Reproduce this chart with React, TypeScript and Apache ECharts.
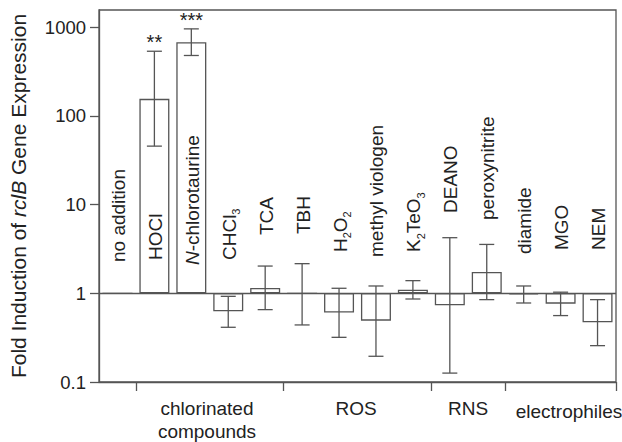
import React, { useEffect, useRef } from "react";
import * as echarts from "echarts";

const CATEGORIES = [
  "no addition", "HOCl", "N-chlorotaurine", "CHCl3", "TCA", "TBH", "H2O2",
  "methyl viologen", "K2TeO3", "DEANO", "peroxynitrite", "diamide", "MGO", "NEM",
];
// rich-text versions of category labels (subscripts / italics)
const CATEGORY_RICH = [
  "no addition", "HOCl", "{it|N}-chlorotaurine", "CHCl{sub|3}", "TCA", "TBH",
  "H{sub|2}O{sub|2}", "methyl viologen", "K{sub|2}TeO{sub|3}", "DEANO",
  "peroxynitrite", "diamide", "MGO", "NEM",
];
const FOLD = [1, 156, 679, 0.627, 1.15, 1.0, 0.606, 0.492, 1.1, 0.732, 1.74, 0.97, 0.765, 0.471];
const ERR_LOW = [null, 45.7, 481, 0.414, 0.655, 0.44, 0.319, 0.195, 0.863, 0.126, 0.849, 0.778, 0.561, 0.257];
const ERR_HIGH = [null, 537, 960, 0.925, 2.03, 2.16, 1.14, 1.21, 1.39, 4.24, 3.56, 1.21, 1.03, 0.849];
const SIGNIF = ["", "**", "***", "", "", "", "", "", "", "", "", "", "", ""];
const Y_TICKS = [0.1, 1, 10, 100, 1000];
const GROUPS = ["chlorinated\ncompounds", "ROS", "RNS", "electrophiles"];
const GROUP_BOUNDARY_INDEX = [1, 5, 9, 11];

// layout (pixels)
const LABEL_BOTTOM = [262, 260, 265, 260, 235, 234, 252, 257, 252, 213, 220, 254, 250, 250];
const GROUP_POS = [[207, 397], [356, 397], [468, 397], [569, 400]];

const FONT = '"Liberation Sans", Arial, Helvetica, sans-serif';
const TEXT = "#222";
const LINE = "#555";

export default function App() {
  const ref = useRef<HTMLDivElement>(null);
  useEffect(() => {
    if (!ref.current) return;
    const chart = echarts.init(ref.current, undefined, { renderer: "svg" });
    const errData = CATEGORIES.map((_, i) =>
      ERR_LOW[i] == null ? null : [i, ERR_LOW[i], ERR_HIGH[i]]
    ).filter((d) => d != null);
    const richLabel = {
      it: { fontStyle: "italic", fontSize: 19, fontFamily: FONT, fill: TEXT, color: TEXT },
      sub: { fontSize: 11, lineHeight: 11, fontFamily: FONT, fill: TEXT, color: TEXT, verticalAlign: "bottom" },
    };
    chart.setOption({
      animation: false,
      backgroundColor: "#fff",
      textStyle: { fontFamily: FONT },
      grid: {
        left: 98, right: 6, top: 10, bottom: 60, show: true,
        borderColor: LINE, borderWidth: 1.3, backgroundColor: "transparent",
      },
      xAxis: {
        type: "category",
        data: CATEGORIES,
        axisLine: { lineStyle: { color: LINE, width: 1.3 } },
        axisLabel: { show: false },
        axisTick: {
          show: true, length: 9, lineStyle: { color: LINE, width: 1.3 },
          interval: (idx: number) => GROUP_BOUNDARY_INDEX.includes(idx),
        },
        splitLine: { show: false },
      },
      yAxis: {
        type: "log",
        logBase: 10,
        min: 0.1,
        max: 1567,
        name: "Fold Induction of {it|rclB} Gene Expression",
        nameLocation: "middle",
        nameGap: 70,
        nameRotate: 90,
        nameTextStyle: {
          fontSize: 21, color: TEXT, fontFamily: FONT,
          rich: { it: { fontStyle: "italic", fontSize: 21, color: TEXT, fontFamily: FONT } },
        },
        axisLine: { show: true, lineStyle: { color: LINE, width: 1.3 } },
        axisTick: { show: true, length: 9, lineStyle: { color: LINE, width: 1.3 }, customValues: Y_TICKS },
        axisLabel: {
          fontSize: 18.5, color: TEXT, margin: 13, fontFamily: FONT,
          customValues: Y_TICKS,
          formatter: (v: number) => {
            const l = Math.log10(v);
            return Math.abs(l - Math.round(l)) < 1e-6 ? String(Number(v.toPrecision(3))) : "";
          },
        },
        splitLine: { show: false },
        minorTick: { show: false },
      },
      series: [
        {
          type: "bar",
          data: FOLD,
          barWidth: 30,
          itemStyle: { color: "#fff", borderColor: LINE, borderWidth: 1.3 },
          markLine: {
            silent: true,
            symbol: "none",
            label: { show: false },
            lineStyle: { color: LINE, width: 1.3, type: "solid" },
            data: [{ yAxis: 1 }],
            z: 1,
          },
        },
        {
          type: "custom",
          data: errData,
          encode: { x: 0, y: [1, 2] },
          z: 5,
          renderItem: (params: any, api: any) => {
            const i = api.value(0);
            const lo = api.coord([i, api.value(1)]);
            const hi = api.coord([i, api.value(2)]);
            const hw = 7.5;
            const st = { stroke: LINE, lineWidth: 1.3 };
            const children: any[] = [
              { type: "line", shape: { x1: lo[0], y1: lo[1], x2: hi[0], y2: hi[1] }, style: st },
              { type: "line", shape: { x1: lo[0] - hw, y1: lo[1], x2: lo[0] + hw, y2: lo[1] }, style: st },
              { type: "line", shape: { x1: hi[0] - hw, y1: hi[1], x2: hi[0] + hw, y2: hi[1] }, style: st },
            ];
            if (SIGNIF[i]) {
              children.push({
                type: "text",
                x: hi[0], y: hi[1] - 9,
                style: { text: SIGNIF[i], fontSize: 20, fontFamily: FONT, fill: TEXT, align: "center", verticalAlign: "middle" },
              });
            }
            return { type: "group", children };
          },
        },
        {
          type: "custom",
          data: CATEGORIES.map((_, i) => [i, 1]),
          encode: { x: 0, y: 1 },
          z: 6,
          renderItem: (params: any, api: any) => {
            const i = api.value(0);
            const p = api.coord([i, 1]);
            return {
              type: "text",
              x: p[0] + 1,
              y: LABEL_BOTTOM[i],
              rotation: Math.PI / 2,
              style: {
                text: CATEGORY_RICH[i],
                rich: richLabel,
                fontSize: 19,
                lineHeight: 25,
                fontFamily: FONT,
                fill: TEXT,
                align: "left",
                verticalAlign: "middle",
              },
            };
          },
        },
      ],
      graphic: GROUPS.map((g, k) => ({
        type: "text",
        x: GROUP_POS[k][0],
        y: GROUP_POS[k][1],
        style: {
          text: g, fontSize: 19, fontFamily: FONT, fill: TEXT,
          align: "center", verticalAlign: "top", lineHeight: 23,
        },
      })),
    });
    return () => chart.dispose();
  }, []);
  return (
    <div
      ref={ref}
      style={{ position: "fixed", left: 0, top: 0, width: 622, height: 442, background: "#fff" }}
    />
  );
}
